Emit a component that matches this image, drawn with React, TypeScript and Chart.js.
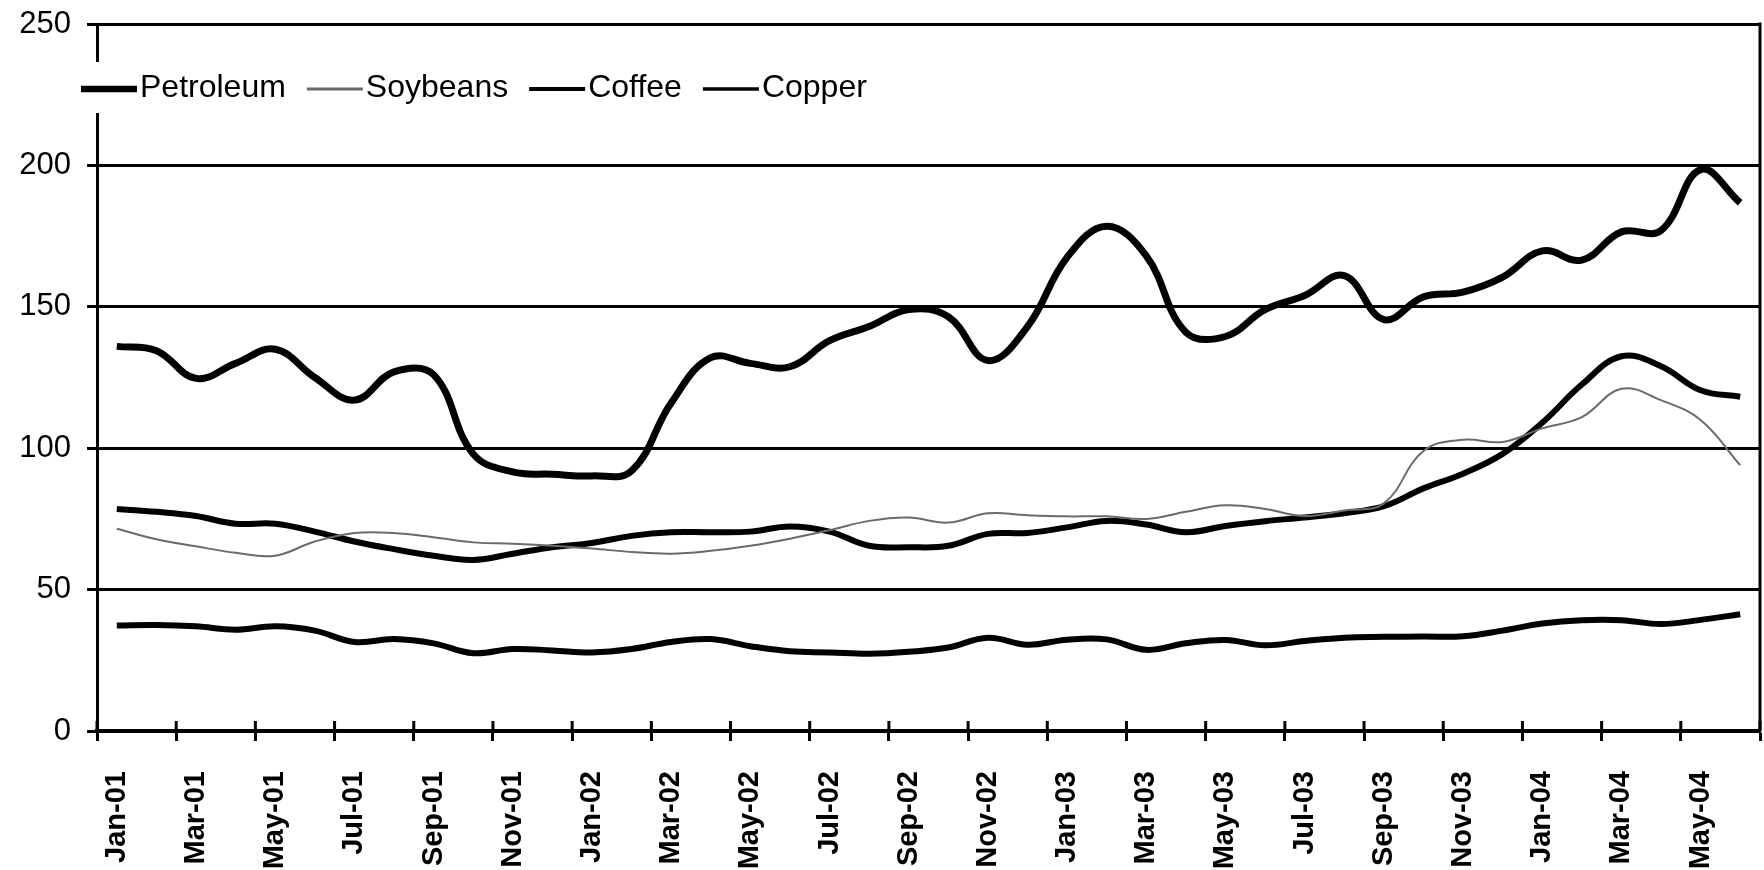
import React, { useEffect, useRef } from "react";
import { Chart, registerables } from "chart.js";

Chart.register(...registerables);

// Monthly observations (plotted mid-month), Jan-01 .. Jun-04
const months = [
  "Jan-01", "Feb-01", "Mar-01", "Apr-01", "May-01", "Jun-01", "Jul-01", "Aug-01", "Sep-01", "Oct-01", "Nov-01", "Dec-01",
  "Jan-02", "Feb-02", "Mar-02", "Apr-02", "May-02", "Jun-02", "Jul-02", "Aug-02", "Sep-02", "Oct-02", "Nov-02", "Dec-02",
  "Jan-03", "Feb-03", "Mar-03", "Apr-03", "May-03", "Jun-03", "Jul-03", "Aug-03", "Sep-03", "Oct-03", "Nov-03", "Dec-03",
  "Jan-04", "Feb-04", "Mar-04", "Apr-04", "May-04", "Jun-04",
];

const petroleum = [
  136, 134.5, 124.7, 130, 135, 125, 117, 127, 126, 98, 91.6, 90.8,
  90.2, 92, 116, 132, 130, 128.8, 138, 143, 149, 146.5, 131, 143,
  167.5, 178.5, 168, 141, 139.5, 149, 154, 161, 145.5, 153.5, 155.2, 160.5,
  169.8, 166.5, 176.5, 177, 198.5, 186.8,
];

const soybeans = [
  71.5, 67.8, 65.3, 63, 62, 67, 70, 70, 68.5, 66.7, 66.2, 65.5,
  64.5, 63.3, 62.7, 63.7, 65.5, 68, 71, 74.3, 75.5, 73.7, 77, 76.3,
  75.9, 75.9, 75, 77.5, 79.8, 78.5, 76, 78, 80.5, 99, 103, 102.2,
  107, 111, 121, 117, 110, 94,
];

const coffee = [
  37.3, 37.5, 37, 35.8, 37, 35.5, 31.5, 32.5, 31, 27.5, 29, 28.5,
  27.8, 29, 31.5, 32.5, 30, 28.2, 27.8, 27.3, 28, 29.5, 33, 30.5,
  32.3, 32.4, 28.7, 31, 32.2, 30.3, 31.8, 33, 33.3, 33.4, 33.5, 35.5,
  38, 39.2, 39.2, 37.8, 39.3, 41.3,
];

const copper = [
  78.5, 77.5, 76, 73.3, 73.3, 70.5, 67, 64.3, 62, 60.5, 62.7, 65,
  66.5, 69, 70.3, 70.3, 70.5, 72.3, 70.5, 65.5, 65, 65.5, 69.7, 70,
  72, 74.3, 73, 70.3, 72.5, 74.2, 75.5, 77, 79.5, 85.8, 91, 98,
  109, 122.5, 132.5, 129, 120.5, 118.2,
];

const seriesNames = ["Petroleum", "Soybeans", "Coffee", "Copper"];

const FONT = '"Liberation Sans", Arial, Helvetica, sans-serif';
const legendLineWidths = [6.5, 3, 4, 3.5];

const legendPlugin = {
  id: "refLegend",
  afterDraw(chart: any) {
    const ctx = chart.ctx;
    ctx.save();
    ctx.fillStyle = "#ffffff";
    ctx.fillRect(74, 62, 810, 51);
    ctx.font = `32px ${FONT}`;
    ctx.textBaseline = "alphabetic";
    ctx.textAlign = "left";
    let x = 81;
    chart.data.datasets.forEach((ds: any, i: number) => {
      ctx.strokeStyle = ds.borderColor;
      ctx.lineWidth = legendLineWidths[i];
      ctx.beginPath();
      ctx.moveTo(x, 89);
      ctx.lineTo(x + 56, 89);
      ctx.stroke();
      ctx.fillStyle = "#000";
      const label = ds.label as string;
      ctx.fillText(label, x + 59, 97);
      x = x + 59 + ctx.measureText(label).width + 21;
    });
    ctx.restore();
  },
};

const framePlugin = {
  id: "rightFrame",
  afterDatasetsDraw(chart: any) {
    const { ctx, chartArea } = chart;
    const xs = chart.scales.x;
    ctx.save();
    ctx.strokeStyle = "#000";
    ctx.lineWidth = 3;
    ctx.beginPath();
    ctx.moveTo(chartArea.right, chartArea.top - 1.5);
    ctx.lineTo(chartArea.right, chartArea.bottom);
    ctx.stroke();
    // upper half of the crossing tick marks (every 2nd category boundary)
    ctx.beginPath();
    for (let i = 0; i <= months.length; i += 2) {
      const px = xs.getPixelForValue(i - 0.5);
      ctx.moveTo(px, chartArea.bottom - 10);
      ctx.lineTo(px, chartArea.bottom);
    }
    ctx.stroke();
    ctx.restore();
  },
};

export default function App() {
  const canvasRef = useRef<HTMLCanvasElement | null>(null);

  useEffect(() => {
    if (!canvasRef.current) return;
    const chart = new Chart(canvasRef.current, {
      type: "line",
      data: {
        labels: months,
        datasets: [
          { label: seriesNames[0], data: petroleum, borderColor: "#000000", borderWidth: 7 },
          { label: seriesNames[1], data: soybeans, borderColor: "#6a6a6a", borderWidth: 2 },
          { label: seriesNames[2], data: coffee, borderColor: "#000000", borderWidth: 6 },
          { label: seriesNames[3], data: copper, borderColor: "#000000", borderWidth: 6 },
        ],
      },
      options: {
        animation: false,
        responsive: true,
        maintainAspectRatio: false,
        layout: { padding: { left: 0, right: 4, top: 24, bottom: 0 } },
        elements: {
          point: { radius: 0, hoverRadius: 0 },
          line: { tension: 0.4, fill: false },
        },
        plugins: {
          legend: { display: false },
          tooltip: { enabled: false },
          title: { display: false },
        },
        scales: {
          x: {
            type: "category",
            offset: true,
            afterFit: (s: any) => {
              s.paddingLeft = 0;
              s.paddingRight = 0;
              s.height = 139;
            },
            grid: {
              offset: true,
              drawOnChartArea: false,
              drawTicks: true,
              tickLength: 10,
              tickWidth: 3,
              tickColor: (c: any) =>
                c.index === undefined || c.index % 2 === 0 ? "#000" : "rgba(0,0,0,0)",
            },
            border: { display: true, color: "#000", width: 3.5 },
            ticks: {
              autoSkip: false,
              maxRotation: 90,
              minRotation: 90,
              padding: 30,
              color: "#000",
              font: { family: FONT, size: 29, weight: "bold" },
              callback: (_v: any, idx: number) => (idx % 2 === 0 ? months[idx] : ""),
            },
          },
          y: {
            min: 0,
            max: 250,
            afterFit: (s: any) => {
              s.paddingTop = 0;
              s.paddingBottom = 0;
              s.width = 97;
            },
            ticks: {
              stepSize: 50,
              padding: 16,
              color: "#000",
              font: { family: FONT, size: 31 },
            },
            grid: {
              color: "#000",
              lineWidth: 3,
              tickLength: 10,
              tickWidth: 3,
              tickColor: "#000",
            },
            border: { display: true, color: "#000", width: 3 },
          },
        },
      },
      plugins: [framePlugin, legendPlugin],
    });
    return () => chart.destroy();
  }, []);

  return (
    <div style={{ position: "fixed", left: 0, top: 0, width: 1764, height: 870, background: "#fff" }}>
      <canvas ref={canvasRef} />
    </div>
  );
}
